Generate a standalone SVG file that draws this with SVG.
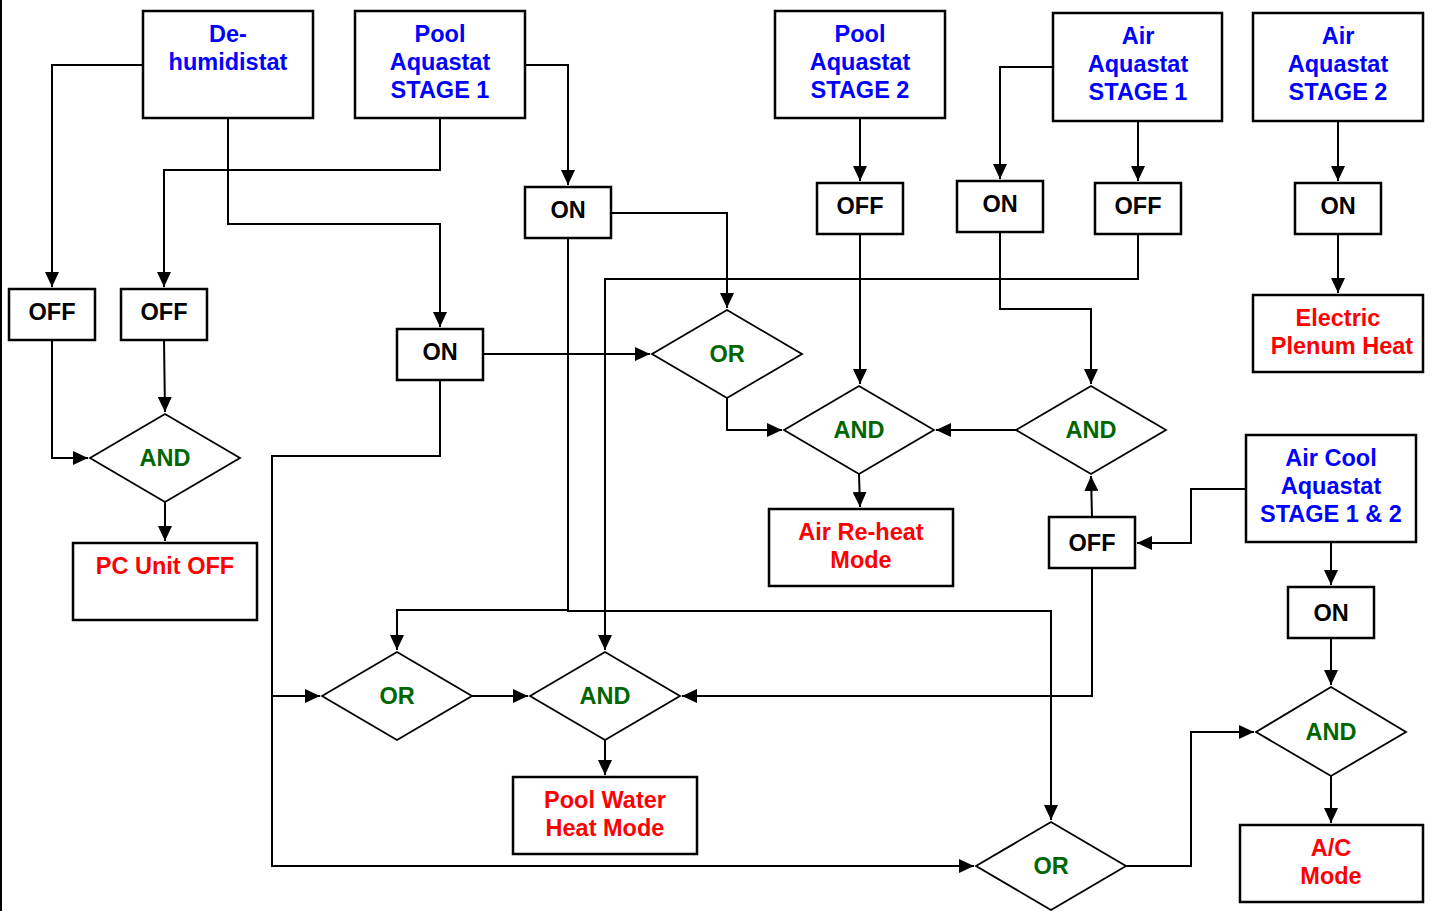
<svg xmlns="http://www.w3.org/2000/svg" width="1437" height="911" viewBox="0 0 1437 911">
<style>
.box{fill:#fff;stroke:#000;stroke-width:2.5}
.gate{fill:#fff;stroke:#000;stroke-width:1.8}
.c{fill:none;stroke:#000;stroke-width:2}
text{font-family:"Liberation Sans",Arial,sans-serif;font-weight:bold;font-size:23.5px;text-anchor:middle}
.in{fill:#0000ff}
.out{fill:#ff0000}
.g{fill:#006600}
.k{fill:#000}
</style>
<defs>
<marker id="ah" viewBox="0 0 15 14" refX="15" refY="7" markerWidth="15" markerHeight="14" markerUnits="userSpaceOnUse" orient="auto">
<path d="M0,0 L15,7 L0,14 Z" fill="#000"/>
</marker>
</defs>
<rect width="1437" height="911" fill="#fff"/>
<line x1="1" y1="0" x2="1" y2="911" stroke="#000" stroke-width="2"/>

<g id="connectors">
<polyline class="c" points="143,65 52,65 52,287" marker-end="url(#ah)"/>
<polyline class="c" points="440,118 440,170 164,170 164,287" marker-end="url(#ah)"/>
<polyline class="c" points="228,118 228,224 440,224 440,327" marker-end="url(#ah)"/>
<polyline class="c" points="525,65 568,65 568,185" marker-end="url(#ah)"/>
<polyline class="c" points="860,118 860,181" marker-end="url(#ah)"/>
<polyline class="c" points="52,340 52,458 88,458" marker-end="url(#ah)"/>
<polyline class="c" points="164,340 165,412" marker-end="url(#ah)"/>
<polyline class="c" points="165,502 165,541" marker-end="url(#ah)"/>
<polyline class="c" points="483,354 650,354" marker-end="url(#ah)"/>
<polyline class="c" points="611,213 727,213 727,308" marker-end="url(#ah)"/>
<polyline class="c" points="727,398 727,430 782,430" marker-end="url(#ah)"/>
<polyline class="c" points="860,234 860,384" marker-end="url(#ah)"/>
<polyline class="c" points="1016,430 936,430" marker-end="url(#ah)"/>
<polyline class="c" points="859,474 860,507" marker-end="url(#ah)"/>
<polyline class="c" points="1053,67 1000,67 1000,179" marker-end="url(#ah)"/>
<polyline class="c" points="1138,121 1138,181" marker-end="url(#ah)"/>
<polyline class="c" points="1000,232 1000,309 1091,309 1091,384" marker-end="url(#ah)"/>
<polyline class="c" points="1138,234 1138,279 605,279 605,650" marker-end="url(#ah)"/>
<polyline class="c" points="1338,121 1338,181" marker-end="url(#ah)"/>
<polyline class="c" points="1338,234 1338,293" marker-end="url(#ah)"/>
<polyline class="c" points="440,380 440,456 272,456 272,866 974,866" marker-end="url(#ah)"/>
<polyline class="c" points="272,696 320,696" marker-end="url(#ah)"/>
<polyline class="c" points="568,238 568,611 1051,611 1051,820" marker-end="url(#ah)"/>
<polyline class="c" points="568,610 397,610 397,650" marker-end="url(#ah)"/>
<polyline class="c" points="472,696 528,696" marker-end="url(#ah)"/>
<polyline class="c" points="1092,568 1092,696 682,696" marker-end="url(#ah)"/>
<polyline class="c" points="1092,517 1091,476" marker-end="url(#ah)"/>
<polyline class="c" points="1246,489 1191,489 1191,543 1137,543" marker-end="url(#ah)"/>
<polyline class="c" points="1331,542 1331,585" marker-end="url(#ah)"/>
<polyline class="c" points="1331,638 1331,685" marker-end="url(#ah)"/>
<polyline class="c" points="1126,866 1191,866 1191,732 1254,732" marker-end="url(#ah)"/>
<polyline class="c" points="1331,776 1331,823" marker-end="url(#ah)"/>
<polyline class="c" points="605,740 605,775" marker-end="url(#ah)"/>
</g>

<g id="dehumidistat"><rect class="box" x="143" y="11" width="170" height="107"/><text class="in" x="228" y="42">De-</text><text class="in" x="228" y="70">humidistat</text></g>
<g id="pool-aquastat-1"><rect class="box" x="355" y="11" width="170" height="107"/><text class="in" x="440" y="42">Pool</text><text class="in" x="440" y="70">Aquastat</text><text class="in" x="440" y="98">STAGE 1</text></g>
<g id="pool-aquastat-2"><rect class="box" x="775" y="11" width="170" height="107"/><text class="in" x="860" y="42">Pool</text><text class="in" x="860" y="70">Aquastat</text><text class="in" x="860" y="98">STAGE 2</text></g>
<g id="air-aquastat-1"><rect class="box" x="1053" y="13" width="169" height="108"/><text class="in" x="1138" y="44">Air</text><text class="in" x="1138" y="72">Aquastat</text><text class="in" x="1138" y="100">STAGE 1</text></g>
<g id="air-aquastat-2"><rect class="box" x="1253" y="13" width="170" height="108"/><text class="in" x="1338" y="44">Air</text><text class="in" x="1338" y="72">Aquastat</text><text class="in" x="1338" y="100">STAGE 2</text></g>
<g id="air-cool-aquastat"><rect class="box" x="1246" y="435" width="170" height="107"/><text class="in" x="1331" y="466">Air Cool</text><text class="in" x="1331" y="494">Aquastat</text><text class="in" x="1331" y="522">STAGE 1 &amp; 2</text></g>

<g id="off-dehum-1"><rect class="box" x="9" y="289" width="86" height="51"/><text class="k" x="52" y="320">OFF</text></g>
<g id="off-pool1"><rect class="box" x="121" y="289" width="86" height="51"/><text class="k" x="164" y="320">OFF</text></g>
<g id="on-dehum"><rect class="box" x="397" y="329" width="86" height="51"/><text class="k" x="440" y="360">ON</text></g>
<g id="on-pool1"><rect class="box" x="525" y="187" width="86" height="51"/><text class="k" x="568" y="218">ON</text></g>
<g id="off-pool2"><rect class="box" x="817" y="183" width="86" height="51"/><text class="k" x="860" y="214">OFF</text></g>
<g id="on-air1"><rect class="box" x="957" y="181" width="86" height="51"/><text class="k" x="1000" y="212">ON</text></g>
<g id="off-air1"><rect class="box" x="1095" y="183" width="86" height="51"/><text class="k" x="1138" y="214">OFF</text></g>
<g id="on-air2"><rect class="box" x="1295" y="183" width="86" height="51"/><text class="k" x="1338" y="214">ON</text></g>
<g id="off-aircool"><rect class="box" x="1049" y="517" width="86" height="51"/><text class="k" x="1092" y="551">OFF</text></g>
<g id="on-aircool"><rect class="box" x="1288" y="587" width="86" height="51"/><text class="k" x="1331" y="621">ON</text></g>

<g id="and-pc"><polygon class="gate" points="90,458 165,414 240,458 165,502"/><text class="g" x="165" y="466">AND</text></g>
<g id="or-upper"><polygon class="gate" points="652,354 727,310 802,354 727,398"/><text class="g" x="727" y="362">OR</text></g>
<g id="and-reheat"><polygon class="gate" points="784,430 859,386 934,430 859,474"/><text class="g" x="859" y="438">AND</text></g>
<g id="and-air"><polygon class="gate" points="1016,430 1091,386 1166,430 1091,474"/><text class="g" x="1091" y="438">AND</text></g>
<g id="or-lower"><polygon class="gate" points="322,696 397,652 472,696 397,740"/><text class="g" x="397" y="704">OR</text></g>
<g id="and-pool"><polygon class="gate" points="530,696 605,652 680,696 605,740"/><text class="g" x="605" y="704">AND</text></g>
<g id="or-bottom"><polygon class="gate" points="976,866 1051,822 1126,866 1051,910"/><text class="g" x="1051" y="874">OR</text></g>
<g id="and-ac"><polygon class="gate" points="1256,732 1331,687 1406,732 1331,776"/><text class="g" x="1331" y="740">AND</text></g>

<g id="pc-unit-off"><rect class="box" x="73" y="543" width="184" height="77"/><text class="out" x="165" y="574">PC Unit OFF</text></g>
<g id="electric-plenum"><rect class="box" x="1253" y="295" width="170" height="77"/><text class="out" x="1338" y="326">Electric</text><text class="out" x="1342" y="354">Plenum Heat</text></g>
<g id="air-reheat"><rect class="box" x="769" y="509" width="184" height="77"/><text class="out" x="861" y="540">Air Re-heat</text><text class="out" x="861" y="568">Mode</text></g>
<g id="pool-water-heat"><rect class="box" x="513" y="777" width="184" height="77"/><text class="out" x="605" y="808">Pool Water</text><text class="out" x="605" y="836">Heat Mode</text></g>
<g id="ac-mode"><rect class="box" x="1240" y="825" width="183" height="77"/><text class="out" x="1331" y="856">A/C</text><text class="out" x="1331" y="884">Mode</text></g>
</svg>
